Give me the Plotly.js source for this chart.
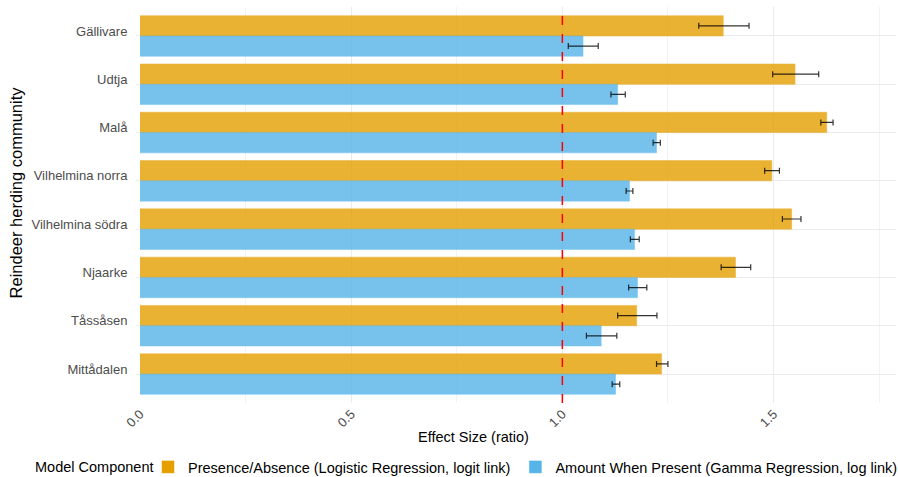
<!DOCTYPE html>
<html>
<head>
<meta charset="utf-8">
<script src="https://cdn.plot.ly/plotly-3.0.1.min.js"></script>
<style>html,body{margin:0;padding:0;background:#fff;}#chart{width:898px;height:477px;}</style>
</head>
<body>
<div id="chart"></div>
<script>
const communities = ["Gällivare","Udtja","Malå","Vilhelmina norra","Vilhelmina södra","Njaarke","Tåssåsen","Mittådalen"];
const presenceName = "Presence/Absence (Logistic Regression, logit link)";
const amountName = "Amount When Present (Gamma Regression, log link)";
const presenceVal = [1.381,1.551,1.626,1.496,1.543,1.410,1.176,1.235];
const presenceLo  = [1.323,1.498,1.612,1.479,1.521,1.376,1.131,1.223];
const presenceHi  = [1.442,1.607,1.641,1.514,1.565,1.446,1.224,1.250];
const amountVal = [1.049,1.131,1.223,1.159,1.171,1.178,1.092,1.126];
const amountLo  = [1.014,1.115,1.215,1.151,1.161,1.157,1.057,1.118];
const amountHi  = [1.085,1.149,1.232,1.167,1.182,1.200,1.129,1.136];
const xTicks = [0, 0.5, 1.0, 1.5];
const xTickText = ["0.0","0.5","1.0","1.5"];
const minorTicks = [0.25, 0.75, 1.25, 1.75];
const refLine = 1.0;
const xTitle = "Effect Size (ratio)";
const yTitle = "Reindeer herding community";
const legendTitle = "Model Component";

function errSpec(val, lo, hi){
  return {type:'data', symmetric:false,
    array: hi.map((h,i)=>h-val[i]), arrayminus: val.map((v,i)=>v-lo[i]),
    color:'rgba(0,0,0,0.8)', thickness:1.2, width:3};
}

const traces = [
  {type:'bar', orientation:'h', name:presenceName, y:communities, x:presenceVal,
   marker:{color:'#E69F00', opacity:0.8, line:{color:'rgba(230,159,0,0.5)', width:1}},
   error_x: errSpec(presenceVal, presenceLo, presenceHi), hoverinfo:'x+y'},
  {type:'bar', orientation:'h', name:amountName, y:communities, x:amountVal,
   marker:{color:'#56B4E9', opacity:0.8, line:{color:'rgba(86,180,233,0.5)', width:1}},
   error_x: errSpec(amountVal, amountLo, amountHi), hoverinfo:'x+y'}
];

const layout = {
  width:898, height:477,
  margin:{l:140, r:2, t:7, b:74, autoexpand:false},
  paper_bgcolor:'#fff', plot_bgcolor:'#fff',
  font:{family:'"Liberation Sans", Arial, sans-serif', color:'#000'},
  barmode:'group', bargap:0.16, bargroupgap:0,
  xaxis:{range:[0,1.79], tickvals:xTicks, ticktext:xTickText, tickangle:-45,
    tickfont:{size:13, color:'#4D4D4D'}, showgrid:true, gridcolor:'#EBEBEB', gridwidth:1,
    minor:{tickvals:minorTicks, showgrid:true, gridcolor:'#F3F3F3', gridwidth:1},
    zeroline:false, showline:false, ticks:'', automargin:false},
  yaxis:{type:'category', categoryorder:'array', categoryarray:communities, range:[7.6,-0.6],
    tickfont:{size:13, color:'#4D4D4D'}, showgrid:true, gridcolor:'#EBEBEB', gridwidth:1,
    zeroline:false, showline:false, ticks:'outside', ticklen:3, tickcolor:'#EBEBEB',
    ticklabelstandoff:6, ticklabelshift:5, automargin:false},
  shapes:[{type:'line', xref:'x', yref:'paper', x0:refLine, x1:refLine, y0:0, y1:1,
    line:{color:'#FF0000', width:1.5, dash:'dash'}}],
  annotations:[
    {text:xTitle, xref:'paper', yref:'paper', x:0.441, y:-0.0859, xanchor:'center', yanchor:'middle',
     showarrow:false, font:{size:14.5, color:'#000'}},
    {text:yTitle, xref:'paper', yref:'paper', x:-0.1647, y:0.533, xanchor:'center', yanchor:'middle',
     textangle:-90, showarrow:false, font:{size:16.5, color:'#000'}},
    {text:legendTitle, xref:'paper', yref:'paper', x:(33-140)/756, y:-64/396, xanchor:'left', yanchor:'middle',
     showarrow:false, font:{size:14.5, color:'#000'}}
  ],
  showlegend:true,
  legend:{orientation:'h', xref:'container', yref:'container', x:148/898, xanchor:'left',
    y:10/477, yanchor:'middle', font:{size:14.5, color:'#000'}, traceorder:'normal'}
};

Plotly.newPlot('chart', traces, layout, {displayModeBar:false, staticPlot:true});
</script>
</body>
</html>
